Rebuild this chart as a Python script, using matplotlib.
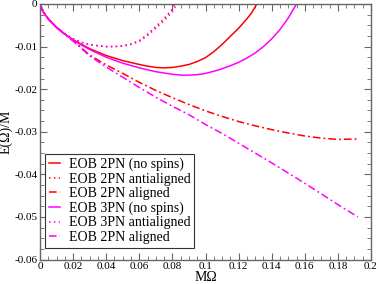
import numpy as np
import matplotlib
matplotlib.use("Agg")
import matplotlib.pyplot as plt
from matplotlib.ticker import MultipleLocator, FuncFormatter

plt.rcParams['font.family'] = ['Liberation Serif', 'DejaVu Serif']
plt.rcParams['axes.unicode_minus'] = False

# EOB 2PN (no spins)
w_2pn = [0, 0.002, 0.005, 0.01, 0.015, 0.02, 0.03, 0.04, 0.05, 0.06, 0.065, 0.07,
         0.075, 0.08, 0.085, 0.09, 0.095, 0.10, 0.105, 0.11, 0.115, 0.12, 0.125,
         0.128, 0.131]
e_2pn = [0, -0.0019, -0.0035, -0.0055, -0.0071, -0.0084, -0.0105, -0.0121, -0.0133,
         -0.0142, -0.0146, -0.0149, -0.0150, -0.0149, -0.0146, -0.0142, -0.0135,
         -0.0126, -0.0112, -0.0095, -0.0076, -0.0057, -0.0035, -0.0020, 0.0]

# EOB 2PN antialigned
w_2pn_anti = [0, 0.002, 0.005, 0.01, 0.015, 0.02, 0.025, 0.03, 0.035, 0.04, 0.045,
              0.05, 0.055, 0.06, 0.065, 0.07, 0.075, 0.08, 0.0815]
e_2pn_anti = [0, -0.0019, -0.0035, -0.0055, -0.0070, -0.0082, -0.0090, -0.0095, -0.0098,
              -0.0100, -0.0100, -0.0098, -0.0094, -0.0086, -0.0071, -0.0053, -0.0034,
              -0.0012, 0.0]

# EOB 2PN aligned
w_2pn_al = [0, 0.002, 0.005, 0.01, 0.015, 0.02, 0.03, 0.04, 0.05, 0.06, 0.07, 0.08,
            0.09, 0.10, 0.11, 0.12, 0.13, 0.14, 0.15, 0.16, 0.17, 0.18, 0.192]
e_2pn_al = [0, -0.0019, -0.0035, -0.0055, -0.0071, -0.0086, -0.0120, -0.0143, -0.0163,
            -0.0184, -0.0203, -0.0220, -0.0236, -0.0251, -0.0264, -0.0276, -0.0286,
            -0.0295, -0.0303, -0.0310, -0.0315, -0.0318, -0.0317]

# EOB 3PN (no spins)
w_3pn = [0, 0.002, 0.005, 0.01, 0.015, 0.02, 0.03, 0.04, 0.05, 0.06, 0.07, 0.08,
         0.085, 0.09, 0.095, 0.10, 0.105, 0.11, 0.115, 0.12, 0.125, 0.13, 0.135,
         0.14, 0.145, 0.15, 0.155]
e_3pn = [0, -0.0019, -0.0035, -0.0055, -0.0071, -0.0085, -0.0107, -0.0125, -0.0139,
         -0.0150, -0.0159, -0.0165, -0.0167, -0.0167, -0.0166, -0.0163, -0.0158,
         -0.0152, -0.0145, -0.0137, -0.0127, -0.0115, -0.0100, -0.0082, -0.0060,
         -0.0033, 0.0]

# EOB 3PN antialigned
w_3pn_anti = [0, 0.002, 0.005, 0.01, 0.015, 0.02, 0.025, 0.03, 0.035, 0.04, 0.045,
              0.05, 0.055, 0.06, 0.065, 0.07, 0.075, 0.08, 0.0828]
e_3pn_anti = [0, -0.0019, -0.0035, -0.0055, -0.0070, -0.0082, -0.0090, -0.0095, -0.0098,
              -0.0100, -0.0100, -0.0099, -0.0095, -0.0088, -0.0074, -0.0057, -0.0039,
              -0.0018, 0.0]

# EOB 2PN aligned (second, magenta)
w_3pn_al = [0, 0.002, 0.005, 0.01, 0.015, 0.02, 0.03, 0.04, 0.05, 0.06, 0.07, 0.08,
            0.09, 0.10, 0.11, 0.12, 0.13, 0.14, 0.15, 0.16, 0.17, 0.18, 0.192]
e_3pn_al = [0, -0.0019, -0.0035, -0.0055, -0.0071, -0.0087, -0.0122, -0.0148, -0.0172,
            -0.0196, -0.0219, -0.0240, -0.0260, -0.0283, -0.0304, -0.0327, -0.0350,
            -0.0373, -0.0397, -0.0421, -0.0446, -0.0471, -0.0500]

labels = ['EOB 2PN (no spins)', 'EOB 2PN antialigned', 'EOB 2PN aligned',
          'EOB 3PN (no spins)', 'EOB 3PN antialigned', 'EOB 2PN aligned']

dotted = (0, (1, 2.2))
dashdot = (0, (5, 2, 1.2, 2))

fig = plt.figure(figsize=(3.79, 2.84), dpi=100)
ax = fig.add_axes([40/379, 1 - 259.5/284, 331/379, 255.5/284])

lw = 1.1
ax.plot(w_2pn, e_2pn, color='#ff0000', lw=lw, ls='-', label=labels[0])
ax.plot(w_2pn_anti, e_2pn_anti, color='#ff0000', lw=lw, ls=dotted, label=labels[1])
ax.plot(w_2pn_al, e_2pn_al, color='#ff0000', lw=lw, ls=dashdot, label=labels[2])
ax.plot(w_3pn, e_3pn, color='#ff00ff', lw=lw, ls='-', label=labels[3])
ax.plot(w_3pn_anti, e_3pn_anti, color='#ff00ff', lw=lw, ls=dotted, label=labels[4])
ax.plot(w_3pn_al, e_3pn_al, color='#ff00ff', lw=lw, ls=dashdot, label=labels[5])

ax.set_xlim(0, 0.2)
ax.set_ylim(-0.06, 0)
ax.xaxis.set_major_locator(MultipleLocator(0.02))
ax.xaxis.set_minor_locator(MultipleLocator(0.005))
ax.yaxis.set_major_locator(MultipleLocator(0.01))
ax.yaxis.set_minor_locator(MultipleLocator(0.0025))
fmt = FuncFormatter(lambda v, p: '%g' % round(v, 4))
ax.xaxis.set_major_formatter(fmt)
ax.yaxis.set_major_formatter(fmt)

for s in ax.spines.values():
    s.set_color('#666666')
    s.set_linewidth(1.0)
ax.tick_params(which='both', direction='in', top=True, right=True, color='#666666',
               labelsize=8, pad=2)
ax.tick_params(which='major', length=5)
ax.tick_params(which='minor', length=3)

ax.set_xlabel('MΩ', fontsize=10, labelpad=0)
ax.set_ylabel('E(Ω)/M', fontsize=10, labelpad=1)

leg = ax.legend(loc='lower left', bbox_to_anchor=(0.015, 0.045), fontsize=10,
                handlelength=0.8, handletextpad=0.6, labelspacing=0.1,
                borderpad=0.3, borderaxespad=0, fancybox=False, framealpha=1)
leg.get_frame().set_edgecolor('#333333')
leg.get_frame().set_linewidth(0.8)

fig.savefig('out.png', dpi=100)
